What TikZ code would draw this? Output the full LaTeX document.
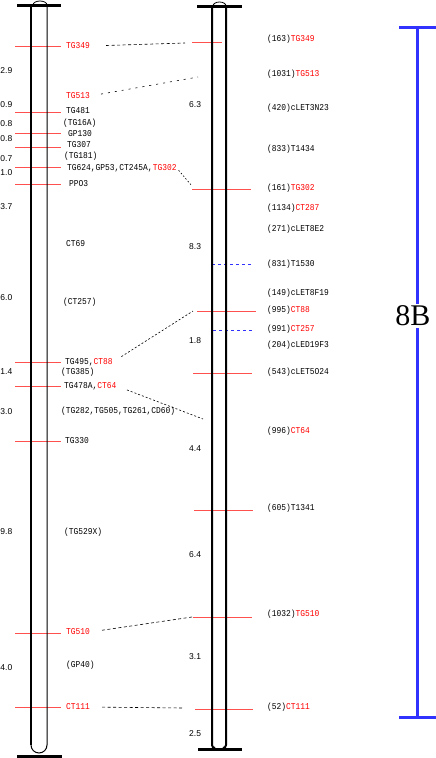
\documentclass[tikz,border=0pt]{standalone}
\usepackage{fontspec}
\newfontfamily\mapfont[FakeStretch=0.88]{Liberation Mono}
\newfontfamily\cmfont{Liberation Sans}
\newfontfamily\grpfont{Liberation Serif}
\definecolor{markred}{RGB}{255,80,80}
\definecolor{scaleblue}{RGB}{50,50,255}
\tikzset{
  mk/.style={markred,line width=0.8pt},
  qtl/.style={scaleblue,dashed,line width=0.8pt},
  lbl/.style={font=\mapfont\fontsize{9}{9}\selectfont,inner sep=0pt,anchor=west},
  dst/.style={font=\cmfont\fontsize{8.5}{8.5}\selectfont,inner sep=0pt},
  link/.style={dash pattern=on 3pt off 2.5pt,line width=0.6pt},
  bar/.style={line width=3pt}
}
\begin{document}
\begin{tikzpicture}[x=1pt,y=-1pt]
\useasboundingbox (0,0) rectangle (436,758);
% marker lines
\draw[mk] (15,46) -- (61,46) (15,112) -- (61,112) (15,133) -- (61,133)
      (15,147) -- (61,147) (15,167) -- (61,167) (15,184) -- (61,184)
      (15,362) -- (61,362) (15,386) -- (61,386) (15,441) -- (61,441)
      (15,633) -- (61,633) (15,707) -- (61,707);
\draw[mk] (192,42) -- (222,42) (192,189) -- (251,189) (197,311) -- (256,311)
      (193,373) -- (252,373) (194,510) -- (253,510) (193,617) -- (252,617)
      (195,709) -- (253,709);
\draw[qtl] (212,264) -- (251,264) (213,330) -- (252,330);
% left map
\draw[bar] (17,5) -- (61,5) (17,756) -- (62,756);
\draw[line width=2pt] (31,5) -- (31,745);
\draw[line width=1pt] (47,5) -- (47,745) (31,745) arc[start angle=180,end angle=360,radius=8pt];
\draw[line width=0.8pt] (33,5) arc[start angle=180,end angle=0,x radius=7pt,y radius=4pt];
% right map
\draw[bar] (197,6) -- (242,6) (198,749) -- (242,749);
\draw[line width=2pt] (212,6) -- (212,745) arc[start angle=180,end angle=270,radius=3pt]
      (226,6) -- (226,745) arc[start angle=0,end angle=-90,radius=3pt];
\draw[line width=0.8pt] (213,6) arc[start angle=180,end angle=0,x radius=6.5pt,y radius=4pt];
% distances
\path[every node/.style={dst,anchor=east}]
  (12.5,71) node (dl1) {2.9}   (12.5,105) node (dl2) {0.9}  (12.5,124) node (dl3) {0.8}
  (12.5,139) node (dl4) {0.8}  (12.5,159) node (dl5) {0.7}  (12.5,173) node (dl6) {1.0}
  (12.5,207) node (dl7) {3.7}  (12.5,298) node (dl8) {6.0}  (12.5,372) node (dl9) {1.4}
  (12.5,412) node (dl10) {3.0} (12.5,532) node (dl11) {9.8} (12.5,668) node (dl12) {4.0};
\path[every node/.style={dst,anchor=west}]
  (189,105) node (dr1) {6.3}  (189,247) node (dr2) {8.3}  (189,341) node (dr3) {1.8}
  (189,449) node (dr4) {4.4}  (189,555) node (dr5) {6.4}  (189,657) node (dr6) {3.1}
  (189,734) node (dr7) {2.5};
% left labels
\scope[every node/.style=lbl]
\node (lTG349) at (66,46) {\textcolor{red}{TG349}};
\node (lTG513) at (66,96) {\textcolor{red}{TG513}};
\node (lTG481) at (66,111) {TG481};
\node (lTG16A) at (63,123) {(TG16A)};
\node (lGP130) at (68,134) {GP130};
\node (lTG307) at (67,145) {TG307};
\node (lTG181) at (64,156) {(TG181)};
\node (lTG302) at (67,168) {TG624,GP53,CT245A,\textcolor{red}{TG302}};
\node (lPPO3) at (69,184) {PPO3};
\node (lCT69) at (66,244) {CT69};
\node (lCT257) at (63,302) {(CT257)};
\node (lCT88) at (65,362) {TG495,\textcolor{red}{CT88}};
\node (lTG385) at (61,372) {(TG385)};
\node (lCT64) at (64,386) {TG478A,\textcolor{red}{CT64}};
\node (lTG282) at (61,411) {(TG282,TG505,TG261,CD60)};
\node (lTG330) at (65,441) {TG330};
\node (lTG529X) at (64,532) {(TG529X)};
\node (lTG510) at (66,632) {\textcolor{red}{TG510}};
\node (lGP40) at (66,665) {(GP40)};
\node (lCT111) at (66,707) {\textcolor{red}{CT111}};
\endscope
% right labels
\scope[every node/.style=lbl]
\node (rTG349) at (267,39) {(163)\textcolor{red}{TG349}};
\node (rTG513) at (267,74) {(1031)\textcolor{red}{TG513}};
\node (rN23) at (267,108) {(420)cLET3N23};
\node (rT1434) at (267,149) {(833)T1434};
\node (rTG302) at (267,188) {(161)\textcolor{red}{TG302}};
\node (rCT287) at (267,208) {(1134)\textcolor{red}{CT287}};
\node (rE2) at (267,229) {(271)cLET8E2};
\node (rT1530) at (267,264) {(831)T1530};
\node (rF19) at (267,293) {(149)cLET8F19};
\node (rCT88) at (267,310) {(995)\textcolor{red}{CT88}};
\node (rCT257) at (267,329) {(991)\textcolor{red}{CT257}};
\node (rF3) at (267,345) {(204)cLED19F3};
\node (rO24) at (267,372) {(543)cLET5O24};
\node (rCT64) at (267,431) {(996)\textcolor{red}{CT64}};
\node (rT1341) at (267,508) {(605)T1341};
\node (rTG510) at (267,614) {(1032)\textcolor{red}{TG510}};
\node (rCT111) at (267,707) {(52)\textcolor{red}{CT111}};
\endscope
% links between the maps
\coordinate (eTG349) at (185,43);
\coordinate (eTG513) at (198,77);
\coordinate (eTG302) at (192,186);
\coordinate (eCT88) at (193,311);
\coordinate (eCT64) at (203,419);
\coordinate (eTG510) at (192,617);
\coordinate (eCT111) at (182,708);
\draw[link,shorten <=16pt] (lTG349.east) -- (eTG349);
\draw[link,dash pattern=on 2pt off 5pt,shorten <=11pt] (lTG513.east) -- (eTG513);
\draw[link,dash pattern=on 1.5pt off 2pt,shorten <=3pt] (lTG302.east) -- (eTG302);
\draw[link,dash pattern=on 2pt off 2pt,shorten <=10pt] (lCT88.east) -- (eCT88);
\draw[link,dash pattern=on 2pt off 2pt,shorten <=11pt] (lCT64.east) -- (eCT64);
\draw[link,shorten <=12pt] (lTG510.east) -- (eTG510);
\draw[link,shorten <=12pt] (lCT111.east) -- (eCT111);
% scale bar
\draw[scaleblue,line width=3pt] (417,27) -- (417,717) (399,27) -- (436,27) (399,717) -- (436,717);
\node[font=\grpfont\fontsize{30}{30}\selectfont,fill=white,inner sep=2pt] (grp) at (413,316) {8B};
\end{tikzpicture}
\end{document}
